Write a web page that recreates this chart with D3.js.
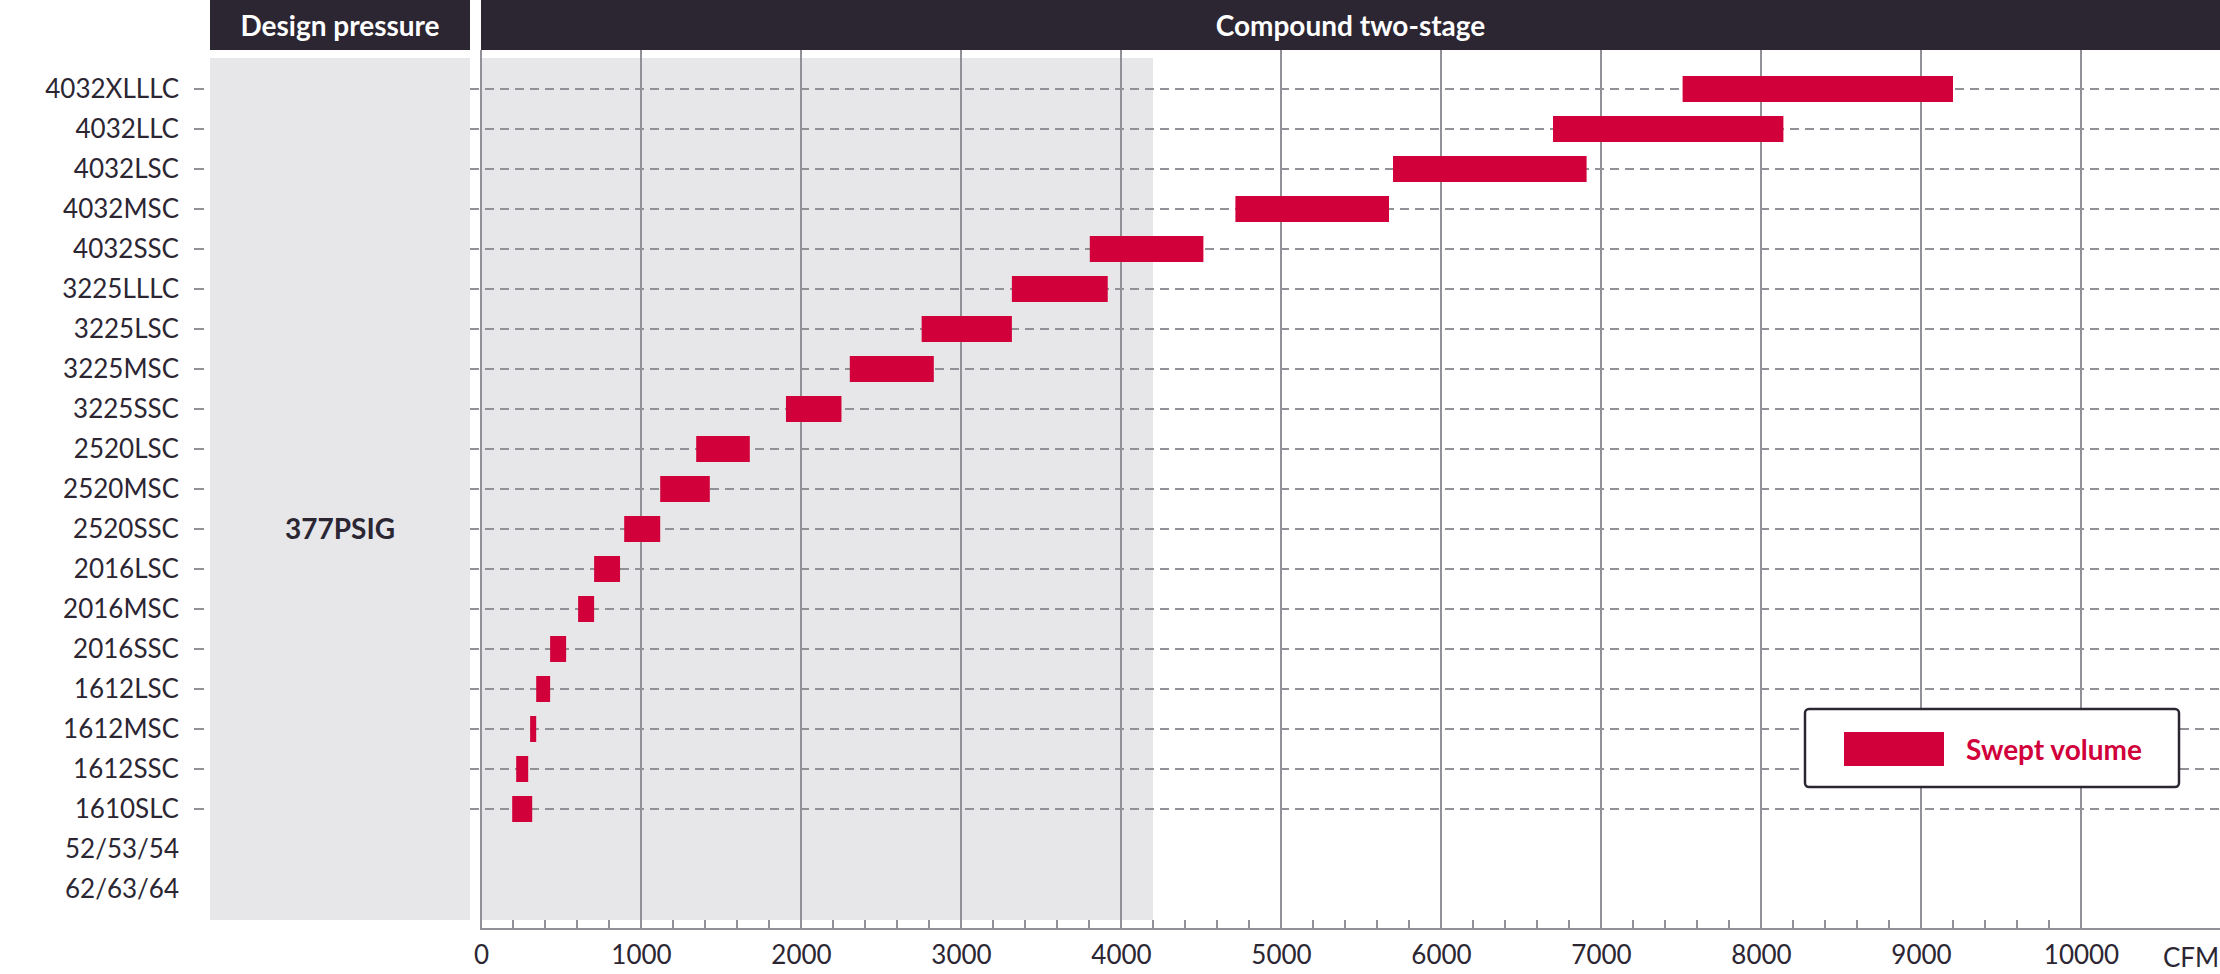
<!DOCTYPE html>
<html>
<head>
<meta charset="utf-8">
<script src="https://cdn.jsdelivr.net/npm/d3@7"></script>
<style>
  html, body { margin: 0; padding: 0; background: #ffffff; }
  svg { display: block; font-family: Lato, "Open Sans", sans-serif; }
</style>
</head>
<body>
<svg id="chart" width="2220" height="974"></svg>
<script>
// ---- data ----
const categories = ["4032XLLLC","4032LLC","4032LSC","4032MSC","4032SSC","3225LLLC","3225LSC","3225MSC","3225SSC","2520LSC","2520MSC","2520SSC","2016LSC","2016MSC","2016SSC","1612LSC","1612MSC","1612SSC","1610SLC","52/53/54","62/63/64"];
const rangeStart = [7510, 6700, 5700, 4715, 3805, 3318, 2754, 2305, 1906, 1345, 1120, 895, 707, 607, 432, 345, 307, 220, 195, null, null];
const rangeEnd   = [9200, 8140, 6910, 5675, 4515, 3917, 3318, 2830, 2253, 1680, 1430, 1120, 869, 707, 532, 432, 345, 295, 320, null, null];
const xTickValues = [0, 1000, 2000, 3000, 4000, 5000, 6000, 7000, 8000, 9000, 10000];
const minorTickValues = d3.range(200, 10000, 200).filter(v => v % 1000 !== 0);
const shadedLimit = 4200;
const headerLabels = ["Design pressure", "Compound two-stage"];
const pressureLabel = "377PSIG";
const pressureRow = "2520SSC";
const axisUnit = "CFM";
const seriesName = "Swept volume";

// ---- styles ----
const dark = "#2c2633";
const barColor = "#d1003b";
const gridColor = "#929197";
const shade = "#e7e7ea";

const svg = d3.select("#chart");
const W = 2220;

const x = d3.scaleLinear().domain([0, 10000]).range([481, 2081]);
const y = d3.scalePoint().domain(categories).range([89, 889]);

const plotTop = 50, axisY = 929, shadeTop = 58, shadeBottom = 920;

// headers
svg.append("rect").attr("x", 210).attr("y", 0).attr("width", 260).attr("height", 50).attr("fill", dark);
svg.append("rect").attr("x", x(0)).attr("y", 0).attr("width", W - x(0)).attr("height", 50).attr("fill", dark);
svg.append("text").attr("x", 340).attr("y", 26).attr("dy", "0.35em").attr("text-anchor", "middle")
  .attr("fill", "#fff").attr("font-weight", 700).attr("font-size", 28).text(headerLabels[0]);
svg.append("text").attr("x", (x(0) + W) / 2).attr("y", 26).attr("dy", "0.35em").attr("text-anchor", "middle")
  .attr("fill", "#fff").attr("font-weight", 700).attr("font-size", 28).text(headerLabels[1]);

// shaded panels
svg.append("rect").attr("x", 210).attr("y", shadeTop).attr("width", 260).attr("height", shadeBottom - shadeTop).attr("fill", shade);
svg.append("rect").attr("x", x(0)).attr("y", shadeTop).attr("width", x(shadedLimit) - x(0)).attr("height", shadeBottom - shadeTop).attr("fill", shade);

svg.append("text").attr("x", 340).attr("y", y(pressureRow)).attr("dy", "0.35em").attr("text-anchor", "middle")
  .attr("fill", dark).attr("font-weight", 700).attr("font-size", 28).text(pressureLabel);

// horizontal dashed gridlines (rows with data)
const rows = categories.map((c, i) => ({c, s: rangeStart[i], e: rangeEnd[i]}));
const dataRows = rows.filter(r => r.s != null);
svg.append("g").selectAll("line").data(dataRows).join("line")
  .attr("x1", 470).attr("x2", W)
  .attr("y1", d => y(d.c)).attr("y2", d => y(d.c))
  .attr("stroke", gridColor).attr("stroke-width", 2).attr("stroke-dasharray", "9,6");

// vertical gridlines
svg.append("g").selectAll("line").data(xTickValues).join("line")
  .attr("x1", d => x(d)).attr("x2", d => x(d))
  .attr("y1", plotTop).attr("y2", axisY)
  .attr("stroke", gridColor).attr("stroke-width", 2);

// minor ticks
svg.append("g").selectAll("line").data(minorTickValues).join("line")
  .attr("x1", d => x(d)).attr("x2", d => x(d))
  .attr("y1", axisY - 9).attr("y2", axisY)
  .attr("stroke", gridColor).attr("stroke-width", 2);

// x axis line
svg.append("line").attr("x1", x(0) - 1).attr("x2", W).attr("y1", axisY).attr("y2", axisY)
  .attr("stroke", gridColor).attr("stroke-width", 2);

// x tick labels
const xAxis = d3.axisBottom(x).tickValues(xTickValues).tickSize(0).tickPadding(0).tickFormat(d3.format("d"));
const gx = svg.append("g").attr("transform", `translate(0,${axisY + 17})`).call(xAxis);
gx.select(".domain").remove();
gx.selectAll("text").attr("font-size", 26).attr("fill", dark).attr("font-family", "Lato, sans-serif").attr("dy", "0.71em");

svg.append("text").attr("x", 2163).attr("y", 958).attr("dy", "0.35em").attr("fill", dark)
  .attr("font-size", 26).text(axisUnit);

// y axis labels + ticks
const yAxis = d3.axisLeft(y).tickSize(0).tickPadding(0);
const gy = svg.append("g").attr("transform", "translate(179,0)").call(yAxis);
gy.select(".domain").remove();
gy.selectAll("text").attr("font-size", 26).attr("fill", dark).attr("font-family", "Lato, sans-serif");
svg.append("g").selectAll("line").data(dataRows).join("line")
  .attr("x1", 194).attr("x2", 204)
  .attr("y1", d => y(d.c)).attr("y2", d => y(d.c))
  .attr("stroke", gridColor).attr("stroke-width", 2);

// bars
svg.append("g").selectAll("rect").data(dataRows).join("rect")
  .attr("x", d => x(d.s)).attr("width", d => x(d.e) - x(d.s))
  .attr("y", d => y(d.c) - 13).attr("height", 26)
  .attr("fill", barColor);

// legend
const lg = svg.append("g");
lg.append("rect").attr("x", 1805).attr("y", 709).attr("width", 374).attr("height", 78).attr("rx", 4)
  .attr("fill", "#fff").attr("stroke", dark).attr("stroke-width", 2.5);
lg.append("rect").attr("x", 1844).attr("y", 732).attr("width", 100).attr("height", 34).attr("fill", barColor);
lg.append("text").attr("x", 1966).attr("y", 750).attr("dy", "0.35em").attr("fill", barColor)
  .attr("font-weight", 700).attr("font-size", 28).text(seriesName);
</script>
</body>
</html>
